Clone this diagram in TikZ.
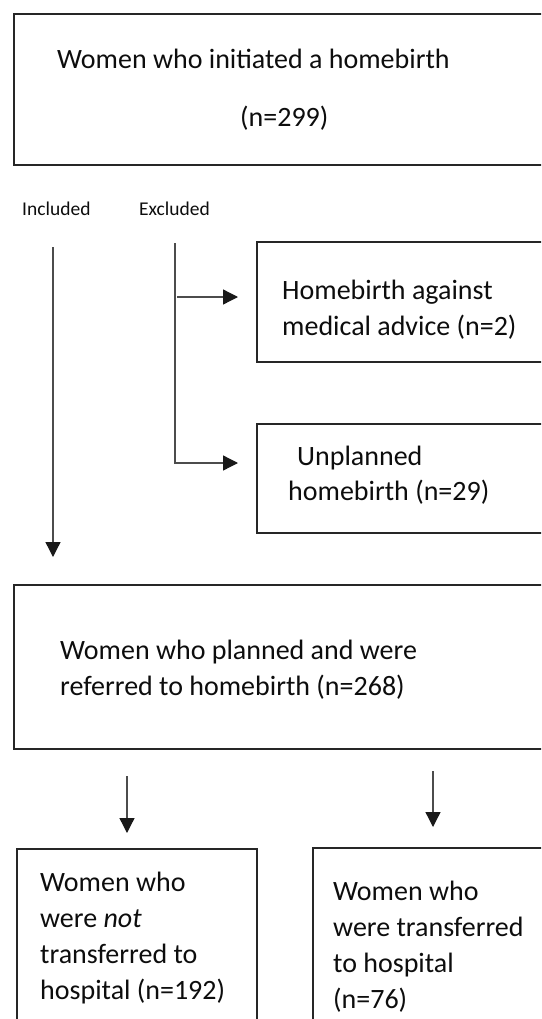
\documentclass[tikz,border=0pt]{standalone}
\usepackage{fontspec}
\setmainfont{Carlito}
\usetikzlibrary{arrows.meta}
\begin{document}
\begin{tikzpicture}[x=1pt,y=-1pt]
\tikzstyle{box} = [draw=black!85,line width=2,inner sep=0,anchor=north west];
\tikzstyle{txt} = [font=\fontsize{28}{36}\selectfont,color=black!95,inner sep=0,anchor=base west,align=left];
\tikzstyle{hdr} = [font=\fontsize{19.5}{23}\selectfont,color=black!95,inner sep=0,anchor=base west];
\tikzstyle{arr} = [line width=1.3,draw=black!70,-{Triangle[length=15pt,width=15pt,color=black!90]}];
\useasboundingbox (0,0) rectangle (541,1019);
\clip (0,0) rectangle (541,1019);
% boxes
\node [box,minimum width=600,minimum height=151] (b1) at (13,13) {};
\node [box,minimum width=320,minimum height=120] (b2) at (256,241) {};
\node [box,minimum width=320,minimum height=109] (b3) at (256,423) {};
\node [box,minimum width=600,minimum height=164] (b4) at (13,584) {};
\node [box,minimum width=240,minimum height=200] (b5) at (16,848) {};
\node [box,minimum width=260,minimum height=200] (b6) at (312,847) {};
% texts (base = last line)
\node [txt] (t1) at (57,69) {Women who initiated a homebirth};
\node [txt] (t1n) at (240,127) {(n=299)};
\node [hdr] (inc) at (22,215) {Included};
\node [hdr] (exc) at (139,215) {Excluded};
\node [txt] (t2) at (282,335) {Homebirth against\\medical advice (n=2)};
\node [txt] (t3) at (297,465) {Unplanned};
\node [txt] (t3n) at (288,500) {homebirth (n=29)};
\node [txt] (t4) at (60,695) {Women who planned and were\\referred to homebirth (n=268)};
\node [txt] (t5) at (40,999) {Women who\\were \emph{not}\\transferred to\\hospital (n=192)};
\node [txt] (t6) at (333,1008) {Women who\\were transferred\\to hospital\\(n=76)};
% connectors
\coordinate (incTop) at (53,247);
\coordinate (incEnd) at (53,557);
\coordinate (exTop) at (175,243);
\coordinate (exMid) at (177,297);
\coordinate (ex1) at (238,297);
\coordinate (ex2) at (238,463);
\coordinate (lTop) at (127,776);
\coordinate (lEnd) at (127,833);
\coordinate (rTop) at (433,771);
\coordinate (rEnd) at (433,827);
\draw [arr] (incTop) -- (incEnd);
\draw [arr] (exTop) |- (ex2);
\draw [arr] (exMid) -- (ex1);
\draw [arr] (lTop) -- (lEnd);
\draw [arr] (rTop) -- (rEnd);
\end{tikzpicture}
\end{document}
